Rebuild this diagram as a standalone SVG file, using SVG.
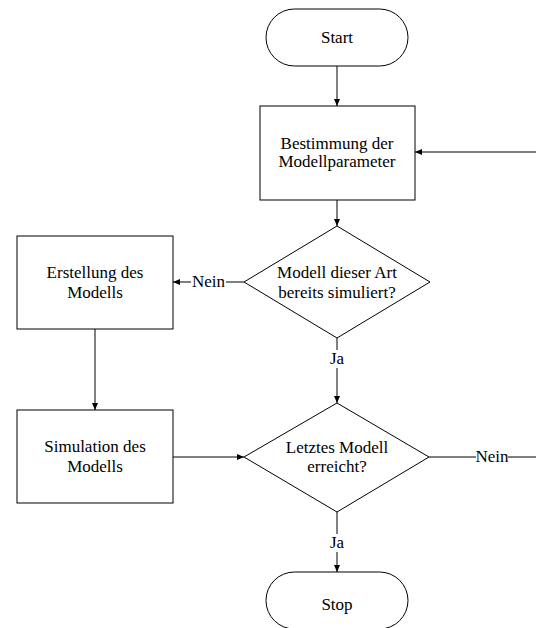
<svg xmlns="http://www.w3.org/2000/svg" width="536" height="628" viewBox="0 0 536 628" font-family="'Liberation Serif', 'Times New Roman', serif" font-size="17">
<defs>
<marker id="ah" markerWidth="8" markerHeight="8" refX="7" refY="4" orient="auto" markerUnits="userSpaceOnUse">
<path d="M0,1 L7,4 L0,7 Z" fill="#000"/>
</marker>
</defs>
<style>
.s{fill:#fff;stroke:#000;stroke-width:1}
.c{fill:none;stroke:#000;stroke-width:1}
.t{fill:#000;text-anchor:middle}
.l{fill:#fff}
</style>
<rect width="536" height="628" fill="#fff"/>
<g id="connectors">
<path class="c" d="M337,66 V106" marker-end="url(#ah)"/>
<path class="c" d="M536,152 H415" marker-end="url(#ah)"/>
<path class="c" d="M337,200 V226" marker-end="url(#ah)"/>
<path class="c" d="M244,282 H173" marker-end="url(#ah)"/>
<path class="c" d="M95,329 V410" marker-end="url(#ah)"/>
<path class="c" d="M337,338 V403" marker-end="url(#ah)"/>
<path class="c" d="M173,457 H244" marker-end="url(#ah)"/>
<path class="c" d="M429,457 H536"/>
<path class="c" d="M337,512 V572" marker-end="url(#ah)"/>
<rect class="l" x="191" y="272" width="35" height="20"/>
<text class="t" x="208.5" y="287">Nein</text>
<rect class="l" x="330" y="350" width="14" height="18"/>
<text class="t" x="337" y="364">Ja</text>
<rect class="l" x="476" y="447" width="32" height="20"/>
<text class="t" x="492" y="462">Nein</text>
<rect class="l" x="330" y="534" width="14" height="18"/>
<text class="t" x="337" y="548">Ja</text>
</g>
<g id="start">
<rect class="s" x="266" y="9" width="142" height="57" rx="28.5" ry="28.5"/>
<text class="t" x="337" y="43">Start</text>
</g>
<g id="bestimmung">
<rect class="s" x="260" y="106" width="155" height="94"/>
<text class="t" x="337" y="148.5">Bestimmung der</text>
<text class="t" x="337" y="167">Modellparameter</text>
</g>
<g id="entscheidung1">
<polygon class="s" points="337,226 430,282 337,338 244,282"/>
<text class="t" x="337" y="278">Modell dieser Art</text>
<text class="t" x="337" y="298">bereits simuliert?</text>
</g>
<g id="erstellung">
<rect class="s" x="17" y="236" width="156" height="93"/>
<text class="t" x="95" y="278">Erstellung des</text>
<text class="t" x="95" y="298">Modells</text>
</g>
<g id="simulation">
<rect class="s" x="17" y="410" width="156" height="93"/>
<text class="t" x="95" y="451.5">Simulation des</text>
<text class="t" x="95" y="471.5">Modells</text>
</g>
<g id="entscheidung2">
<polygon class="s" points="337,403 429,457 337,512 244,457"/>
<text class="t" x="337" y="452.5">Letztes Modell</text>
<text class="t" x="337" y="471.5">erreicht?</text>
</g>
<g id="stop">
<rect class="s" x="266" y="572" width="142" height="57" rx="28.5" ry="28.5"/>
<text class="t" x="337" y="610">Stop</text>
</g>
</svg>
